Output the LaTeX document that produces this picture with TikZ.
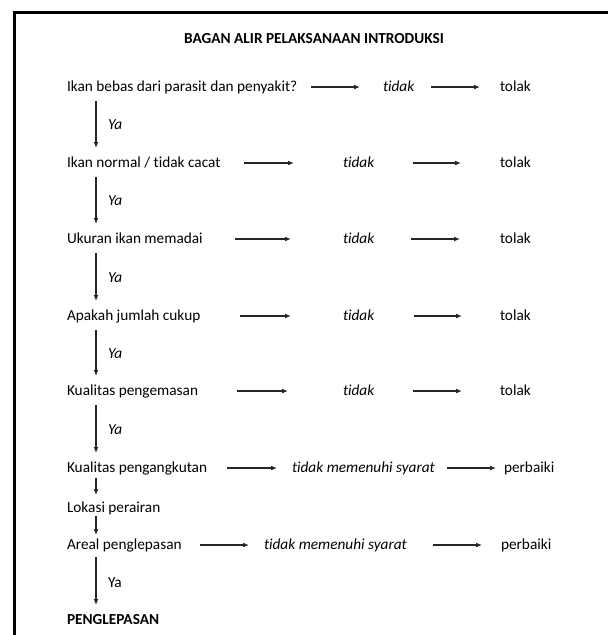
\documentclass[tikz,border=0pt]{standalone}
\usepackage{fontspec}
\setmainfont{Carlito}[Ligatures=NoCommon]
\usetikzlibrary{arrows.meta}
\begin{document}
\begin{tikzpicture}[x=1pt,y=-1pt]
\tikzset{ >={Latex[length=6pt,width=5pt]}, inner sep=0pt, outer sep=0pt,
  teks/.style={anchor=west, font=\fontsize{15.3}{18}\selectfont, text height=11pt, text depth=3pt},
  panah/.style={->, line width=1.2pt, black!85},
  turun/.style={->, line width=1.2pt, black!85, shorten <=7pt, shorten >=8pt},
  ya/.style={midway, right=12pt, black, font=\fontsize{15.3}{18}\selectfont},
}
\useasboundingbox (0,0) rectangle (608,635);
%\draw [lightgray, dashed](0,0) grid (608,635);

\draw [line width=3pt] (14.5,635) -- (14.5,12) -- (608,12);

\node [teks, anchor=center] (judul) at (314,39) {\textbf{BAGAN ALIR PELAKSANAAN INTRODUKSI}};

\coordinate (kiri) at (96,0);

% pertanyaan
\node [teks] (Q1) at (67,87)  {Ikan bebas dari parasit dan penyakit?};
\node [teks] (Q2) at (67,163) {Ikan normal / tidak cacat};
\node [teks] (Q3) at (67,239) {Ukuran ikan memadai};
\node [teks] (Q4) at (67,316) {Apakah jumlah cukup};
\node [teks] (Q5) at (67,391) {Kualitas pengemasan};
\node [teks] (Q6) at (67,468) {Kualitas pengangkutan};
\node [teks] (Q7) at (67,508) {Lokasi perairan};
\node [teks] (Q8) at (67,545) {Areal penglepasan};
\node [teks] (END) at (67,620) {\textbf{PENGLEPASAN}};

% jawaban tidak
\node [teks] (T1) at (383,87)  {\textit{tidak}};
\node [teks] (T2) at (343,163) {\textit{tidak}};
\node [teks] (T3) at (343,239) {\textit{tidak}};
\node [teks] (T4) at (343,316) {\textit{tidak}};
\node [teks] (T5) at (343,391) {\textit{tidak}};
\node [teks] (T6) at (292,468) {\textit{tidak memenuhi syarat}};
\node [teks] (T8) at (264,545) {\textit{tidak memenuhi syarat}};

% hasil
\node [teks] (R1) at (500,87)  {tolak};
\node [teks] (R2) at (500,163) {tolak};
\node [teks] (R3) at (500,239) {tolak};
\node [teks] (R4) at (500,316) {tolak};
\node [teks] (R5) at (500,391) {tolak};
\node [teks] (R6) at (504,468) {perbaiki};
\node [teks] (R8) at (501,545) {perbaiki};

\draw [panah, shorten <=14pt, shorten >=23pt] (Q1) -- (T1);
\draw [panah, shorten <=17pt, shorten >=20pt] (T1) -- (R1);
\draw [panah, shorten <=24pt, shorten >=49pt] (Q2) -- (T2);
\draw [panah, shorten <=39pt, shorten >=39pt] (T2) -- (R2);
\draw [panah, shorten <=32pt, shorten >=52pt] (Q3) -- (T3);
\draw [panah, shorten <=37pt, shorten >=40pt] (T3) -- (R3);
\draw [panah, shorten <=40pt, shorten >=52pt] (Q4) -- (T4);
\draw [panah, shorten <=40pt, shorten >=38pt] (T4) -- (R4);
\draw [panah, shorten <=39pt, shorten >=55pt] (Q5) -- (T5);
\draw [panah, shorten <=39pt, shorten >=38pt] (T5) -- (R5);
\draw [panah, shorten <=20pt, shorten >=15pt] (Q6) -- (T6);
\draw [panah, shorten <=12pt, shorten >=8pt]  (T6) -- (R6);
\draw [panah, shorten <=18pt, shorten >=15pt] (Q8) -- (T8);
\draw [panah, shorten <=26pt, shorten >=19pt] (T8) -- (R8);

\draw [turun] (Q1.south -| kiri) -- (Q2.north -| kiri) node [ya] {\textit{Ya}};
\draw [turun] (Q2.south -| kiri) -- (Q3.north -| kiri) node [ya] {\textit{Ya}};
\draw [turun] (Q3.south -| kiri) -- (Q4.north -| kiri) node [ya] {\textit{Ya}};
\draw [turun] (Q4.south -| kiri) -- (Q5.north -| kiri) node [ya] {\textit{Ya}};
\draw [turun] (Q5.south -| kiri) -- (Q6.north -| kiri) node [ya] {\textit{Ya}};
\draw [turun, shorten <=3pt, shorten >=6pt] (Q6.south -| kiri) -- (Q7.north -| kiri);
\draw [turun, shorten <=1pt, shorten >=3pt] (Q7.south -| kiri) -- (Q8.north -| kiri);
\draw [turun, shorten <=5pt, shorten >=8pt] (Q8.south -| kiri) -- (END.north -| kiri) node [ya] {Ya};

\end{tikzpicture}
\end{document}
